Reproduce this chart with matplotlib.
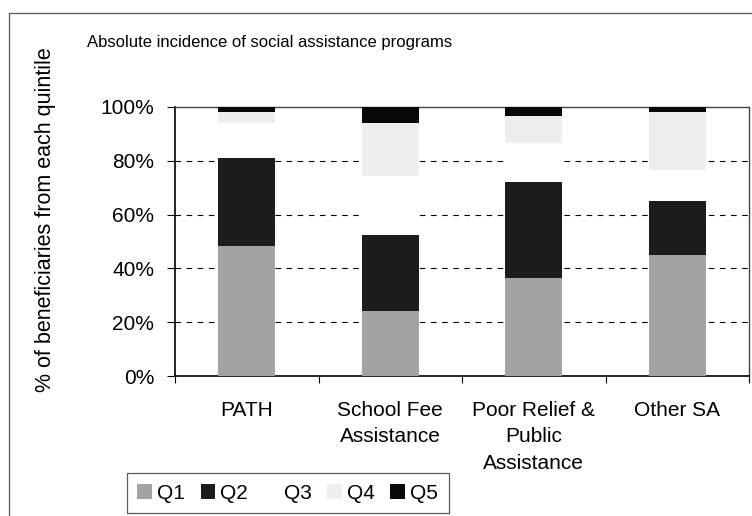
import matplotlib.pyplot as plt
from matplotlib.patches import Patch
from matplotlib.lines import Line2D
from matplotlib.ticker import FuncFormatter

plt.rcParams['font.family'] = ['Liberation Sans', 'DejaVu Sans']

# Share of beneficiaries (%) by consumption quintile
programs = ['PATH', 'School Fee\nAssistance', 'Poor Relief &\nPublic\nAssistance', 'Other SA']
quintiles = ['Q1', 'Q2', 'Q3', 'Q4', 'Q5']
q1 = [48.5, 24.0, 36.5, 45.0]
q2 = [32.5, 28.5, 35.5, 20.0]
q3 = [13.0, 22.0, 14.5, 11.5]
q4 = [4.0, 19.5, 10.0, 21.5]
q5 = [2.0, 6.0, 3.5, 2.0]
yticks = [0, 20, 40, 60, 80, 100]

colors = ['#a3a3a3', '#1c1c1c', '#ffffff', '#eeeeee', '#080808']

fig = plt.figure(figsize=(7.52, 5.16), dpi=100)
ax = fig.add_axes([175 / 752, 1 - 376 / 516, (749 - 175) / 752, (376 - 107) / 516])

x = range(len(programs))
bottom = [0.0] * len(programs)
for vals, col, name in zip([q1, q2, q3, q4, q5], colors, quintiles):
    ax.bar(x, vals, width=0.4, bottom=bottom, color=col, label=name, zorder=3)
    bottom = [b + v for b, v in zip(bottom, vals)]

ax.set_xlim(-0.5, len(programs) - 0.5)
ax.set_ylim(0, 100)
ax.set_yticks(yticks)
ax.yaxis.set_major_formatter(FuncFormatter(lambda v, p: f'{v:.0f}%'))
ax.set_xticks(list(x))
ax.set_xticklabels(programs, fontsize=15, linespacing=1.5, va='top')
ax.set_xticks([i - 0.5 for i in range(len(programs) + 1)], minor=True)
ax.tick_params(axis='x', which='major', length=0, pad=18)
ax.tick_params(axis='x', which='minor', length=5, width=0.8, direction='out')
ax.tick_params(axis='y', length=6, width=0.8, pad=9, labelsize=15)

for yv in yticks[1:-1]:
    ax.axhline(yv, color='black', lw=0.8, ls=(0, (5, 5)), zorder=1)

for side in ['top', 'right']:
    ax.spines[side].set_color('#444444')
    ax.spines[side].set_linewidth(1.0)
for side in ['left', 'bottom']:
    ax.spines[side].set_color('black')
    ax.spines[side].set_linewidth(1.2)

fig.text(46 / 752, 1 - 220 / 516, '% of beneficiaries from each quintile',
         fontsize=15.5, rotation=90, ha='center', va='center')

fig.text(270 / 752, 1 - 42 / 516, 'Absolute incidence of social assistance programs',
         fontsize=12, ha='center', va='center')

# outer chart frame
fig.add_artist(Line2D([9 / 752, 9 / 752], [0, 1 - 13 / 516], color='#555555', lw=0.9))
fig.add_artist(Line2D([9 / 752, 1], [1 - 13 / 516, 1 - 13 / 516], color='#555555', lw=0.9))

handles = [Patch(facecolor=c, edgecolor='none') for c in colors]
leg = fig.legend(handles, quintiles, loc='lower left', ncol=5,
                 bbox_to_anchor=(127 / 752, 3 / 516), borderaxespad=0,
                 fontsize=15, frameon=True,
                 handlelength=0.7, handleheight=0.7, handletextpad=0.25,
                 columnspacing=0.75, borderpad=0.5, fancybox=False)
leg.get_frame().set_edgecolor('#333333')
leg.get_frame().set_linewidth(0.9)

fig.savefig('out.png', dpi=100)
